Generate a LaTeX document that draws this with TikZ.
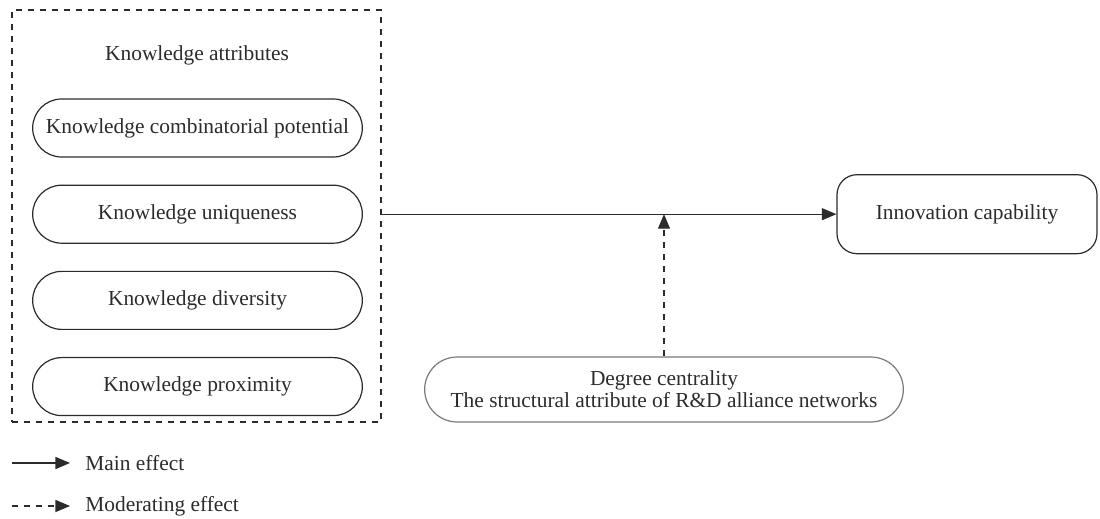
\documentclass[tikz,border=0pt]{standalone}
\usepackage{fontspec}
\setmainfont{Liberation Serif}
\usetikzlibrary{shapes,arrows,positioning}
\definecolor{inkgray}{HTML}{2B2B2B}
\definecolor{edgegray}{HTML}{7A7A7A}

\begin{document}
\begin{tikzpicture}[font=\fontsize{10.7}{11}\selectfont, text=inkgray]
 \tikzset{attr node/.style={rounded rectangle, draw=inkgray, line width=0.6pt,
 		minimum width=171.5pt, minimum height=29pt, text centered}, }
 \tikzset{frame node/.style={rectangle, draw=inkgray, dashed, line width=0.6pt,
 		minimum width=184.5pt, minimum height=206pt}, }
 \tikzset{target node/.style={rectangle, draw=inkgray, line width=0.6pt,
 		rounded corners=10pt, minimum width=130pt, minimum height=39.5pt,
 		text centered}, }
 \tikzset{moder node/.style={rounded rectangle, draw=edgegray, line width=0.6pt,
 		minimum width=246pt, minimum height=32.5pt, align=center}, }
 \tikzset{legend node/.style={inner xsep=0pt, anchor=west}, }
 \tikzset{main arrow/.style={-triangle 45, draw=inkgray, line width=0.65pt},}
 \tikzset{moder arrow/.style={main arrow, dashed},}
 \useasboundingbox (0,0) rectangle (550pt,-259.5pt);
 \node[frame node] (attr) at (98.25pt,-108pt) {};
 \node (title) at (98.5pt,-27.5pt) {Knowledge attributes};
 \node[attr node] (comb) at (98.75pt,-64pt) {Knowledge combinatorial potential};
 \node[attr node] (uniq)[below=13.5pt of comb] {Knowledge uniqueness};
 \node[attr node] (div)[below=13.5pt of uniq] {Knowledge diversity};
 \node[attr node] (prox)[below=13.5pt of div] {Knowledge proximity};
 \node[target node] (innov) at (uniq -| 483.5pt,0) {Innovation capability};
 \node[moder node] (deg) at (332pt,-194.75pt)
 	{Degree centrality\\The structural attribute of R\&D alliance networks};
 \draw[main arrow] (attr.east |- uniq) -- (innov.west);
 \draw[moder arrow] (deg.north) -- (deg.north |- innov.west);
% legend
 \coordinate (m0) at (6pt,-231.5pt);
 \coordinate[right=29pt of m0] (m1);
 \node[legend node] (mlab)[right=7.5pt of m1] {Main effect};
 \coordinate (d0) at (6pt,-253pt);
 \coordinate[right=29pt of d0] (d1);
 \node[legend node] (dlab)[right=7.5pt of d1] {Moderating effect};
 \draw[main arrow] (m0) -- (m1);
 \draw[moder arrow] (d0) -- (d1);
\end{tikzpicture}
\end{document}
